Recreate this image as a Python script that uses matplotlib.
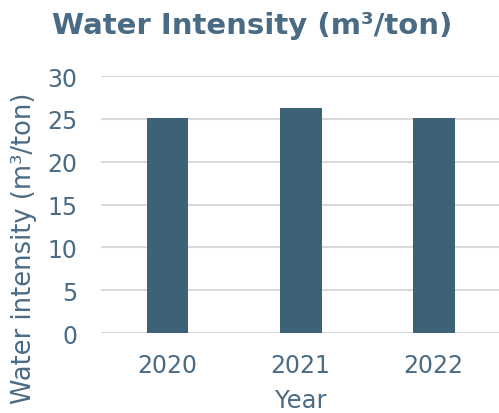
import matplotlib
matplotlib.use("Agg")
import matplotlib.pyplot as plt

years = ["2020", "2021", "2022"]
intensity = [25.1, 26.3, 25.05]
yticks = [0, 5, 10, 15, 20, 25, 30]

TEXT = "#4a6b84"
BAR = "#3d6277"

plt.rcParams['font.family'] = ['DejaVu Sans']

fig = plt.figure(figsize=(4.99, 4.14), dpi=100)
ax = fig.add_axes([0.2024, 0.193, 0.80, 0.621])
x = list(range(len(years)))
ax.bar(x, intensity, width=0.315, color=BAR, zorder=3)
ax.set_xlim(-0.5, 2.5)
ax.set_ylim(0, 30)
ax.set_yticks(yticks)
ax.set_xticks(x)
ax.set_xticklabels(years)
ax.yaxis.grid(True, color="#d9d9d9", linewidth=1.5, zorder=0)
for s in ax.spines.values():
    s.set_visible(False)
ax.tick_params(axis='both', length=0, labelsize=17, labelcolor=TEXT)
ax.tick_params(axis='y', pad=17)
ax.tick_params(axis='x', pad=14)
ax.set_xlabel("Year", fontsize=17.5, color=TEXT, labelpad=8)
fig.text(0.048, 0.40, "Water intensity (m³/ton)", rotation=90, fontsize=18.5,
         color=TEXT, ha='center', va='center')
fig.text(0.505, 0.937, "Water Intensity (m³/ton)", fontsize=21, fontweight='bold',
         color=TEXT, ha='center', va='center')
fig.savefig("out.png", dpi=100)
